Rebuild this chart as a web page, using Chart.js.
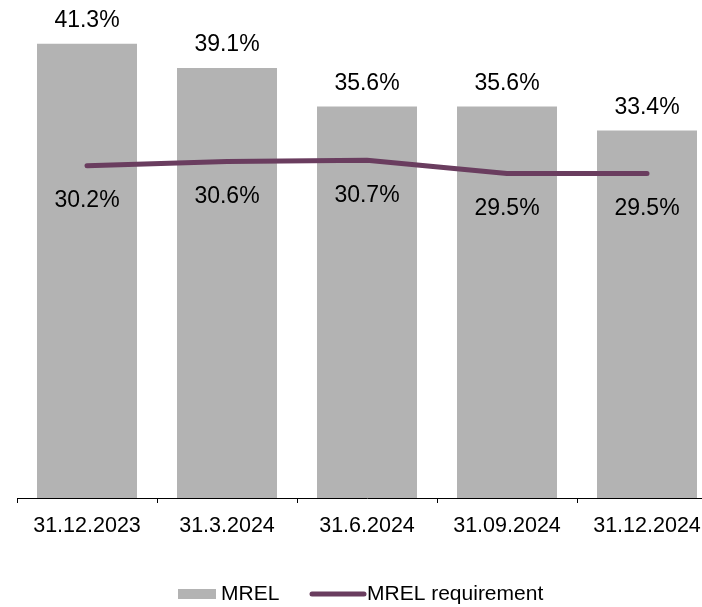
<!DOCTYPE html>
<html>
<head>
<meta charset="utf-8">
<script src="https://cdn.jsdelivr.net/npm/chart.js@4"></script>
<style>
    html, body { margin: 0; padding: 0; background: #fff; overflow: hidden; }
    #wrap { width: 720px; height: 607px; }
</style>
</head>
<body>
<div id="wrap"><canvas id="mrel"></canvas></div>
<script>
const categories = ['31.12.2023', '31.3.2024', '31.6.2024', '31.09.2024', '31.12.2024'];
const mrel = [41.3, 39.1, 35.6, 35.6, 33.4];
const mrelRequirement = [30.2, 30.6, 30.7, 29.5, 29.5];

const FONT = '"Liberation Sans", Arial, sans-serif';

// étiquettes de valeurs + légende maison
const labelsPlugin = {
    id: 'labels',
    afterDatasetsDraw(chart) {
        const ctx = chart.ctx;
        ctx.save();
        ctx.font = '23px ' + FONT;
        ctx.fillStyle = '#000';
        ctx.textAlign = 'center';
        ctx.textBaseline = 'middle';
        chart.getDatasetMeta(0).data.forEach((bar, i) => {
            ctx.fillText(mrel[i].toFixed(1) + '%', bar.x, bar.y - 23);
        });
        chart.getDatasetMeta(1).data.forEach((pt, i) => {
            ctx.fillText(mrelRequirement[i].toFixed(1) + '%', pt.x, pt.y + 35);
        });

        // légende
        const ds = chart.data.datasets;
        const y = 594;
        ctx.textAlign = 'left';
        ctx.font = '21px ' + FONT;
        ctx.fillStyle = ds[0].backgroundColor;
        ctx.fillRect(178, y - 5, 38, 10);
        ctx.fillStyle = '#000';
        ctx.fillText(ds[0].label, 221, y);
        ctx.strokeStyle = ds[1].borderColor;
        ctx.lineWidth = 5;
        ctx.lineCap = 'round';
        ctx.beginPath();
        ctx.moveTo(312, y);
        ctx.lineTo(364, y);
        ctx.stroke();
        ctx.fillText(ds[1].label, 367, y);
        ctx.restore();
    }
};

new Chart(document.getElementById('mrel'), {
    type: 'bar',
    data: {
        labels: categories,
        datasets: [{
            label: 'MREL',
            data: mrel,
            backgroundColor: '#b3b3b3',
            barPercentage: 1,
            categoryPercentage: 100 / 140,
            order: 1,
        }, {
            type: 'line',
            label: 'MREL requirement',
            data: mrelRequirement,
            borderColor: '#6a3d5f',
            backgroundColor: '#6a3d5f',
            borderWidth: 5,
            borderCapStyle: 'round',
            borderJoinStyle: 'round',
            pointRadius: 0,
            tension: 0,
            order: 0,
        }]
    },
    options: {
        responsive: true,
        maintainAspectRatio: false,
        animation: false,
        layout: { padding: { left: 17, right: 3, top: 3, bottom: 0 } },
        scales: {
            y: {
                display: false,
                min: 0,
                max: 45,
            },
            x: {
                grid: {
                    drawOnChartArea: false,
                    tickLength: 5,
                    color: '#000',
                },
                border: { color: '#000', width: 1 },
                ticks: {
                    color: '#000',
                    font: { family: FONT, size: 21.5 },
                    padding: 10,
                    maxRotation: 0,
                },
                afterFit(scale) {
                    scale.height = 109;
                },
            },
        },
        plugins: {
            legend: { display: false },
            tooltip: { enabled: false },
        }
    },
    plugins: [labelsPlugin]
});
</script>
</body>
</html>
